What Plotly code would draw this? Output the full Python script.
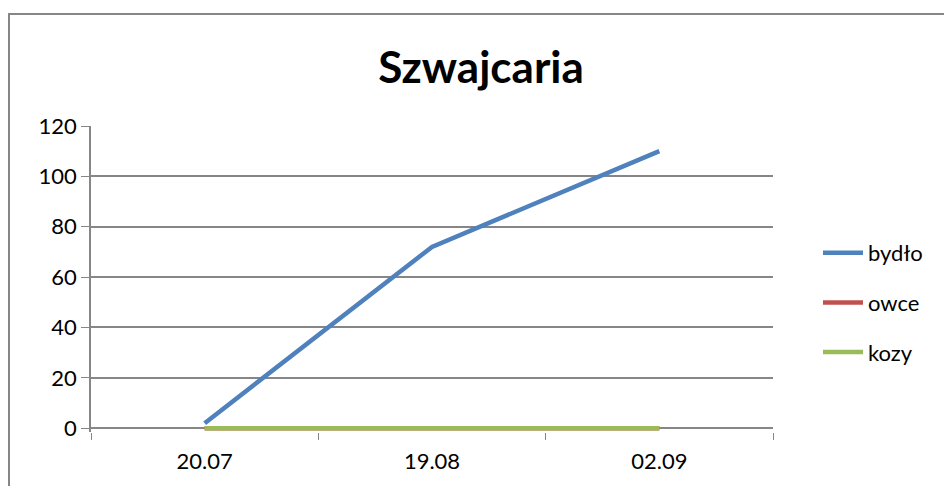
import plotly.graph_objects as go

categories = ["20.07", "19.08", "02.09"]
bydlo = [2, 72, 110]
owce = [0, 0, 0]
kozy = [0, 0, 0]
series_names = ["bydło", "owce", "kozy"]
colors = ["#4F81BD", "#C0504D", "#9BBB59"]

fig = go.Figure()
for i, (name, vals, col) in enumerate(zip(series_names, [bydlo, owce, kozy], colors)):
    fig.add_trace(go.Scatter(x=categories, y=vals, mode="lines", name=name,
                             line=dict(color=col, width=4.5), legendgroup=name,
                             cliponaxis=False))

W, H = 944, 486
L, R, T, B = 91, 171, 126, 54
pw, ph = W - L - R, H - T - B
Y0 = 428  # pixel of y=0

def px2x(px):
    return (px - L) / pw

def py2y(py):
    return (H - B - py) / ph

fig.add_shape(type="rect", xref="paper", yref="paper",
              x0=px2x(9), x1=px2x(960), y0=py2y(500), y1=py2y(14),
              line=dict(color="#868686", width=2), fillcolor="rgba(0,0,0,0)", layer="below")

font = "Lato, Open Sans, sans-serif"
fs = 22
fig.update_layout(
    width=W, height=H,
    margin=dict(l=L, r=R, t=T, b=B),
    paper_bgcolor="white", plot_bgcolor="white",
    title=dict(text="<b>Szwajcaria</b>", x=481 / W, xanchor="center",
               y=1 - 68 / H, yanchor="middle", yref="container",
               font=dict(family=font, size=44, color="black")),
    font=dict(family=font, size=fs, color="black"),
    xaxis=dict(type="category", range=[-0.5, 2.5], showgrid=False, ticks="outside",
               tickson="boundaries", ticklen=7, tickcolor="#868686", showline=False,
               zeroline=False, tickfont=dict(size=fs), automargin=False,
               ticklabelstandoff=14),
    yaxis=dict(range=[-1.5, 120], tickvals=[0, 20, 40, 60, 80, 100, 120],
               showgrid=True, gridcolor="#868686", gridwidth=1.5,
               ticks="outside", ticklen=8, tickcolor="#868686", showline=True,
               linecolor="#868686", linewidth=1.5, zeroline=False,
               tickfont=dict(size=fs), ticksuffix=" ", automargin=False),
    legend=dict(x=px2x(818), y=py2y(232), xanchor="left", yanchor="top",
                font=dict(size=fs), tracegroupgap=18, bgcolor="rgba(0,0,0,0)",
                itemwidth=40),
    showlegend=True,
)

fig.write_html("out.html", post_script="document.body.style.margin='0';",
               config={"displayModeBar": False})
